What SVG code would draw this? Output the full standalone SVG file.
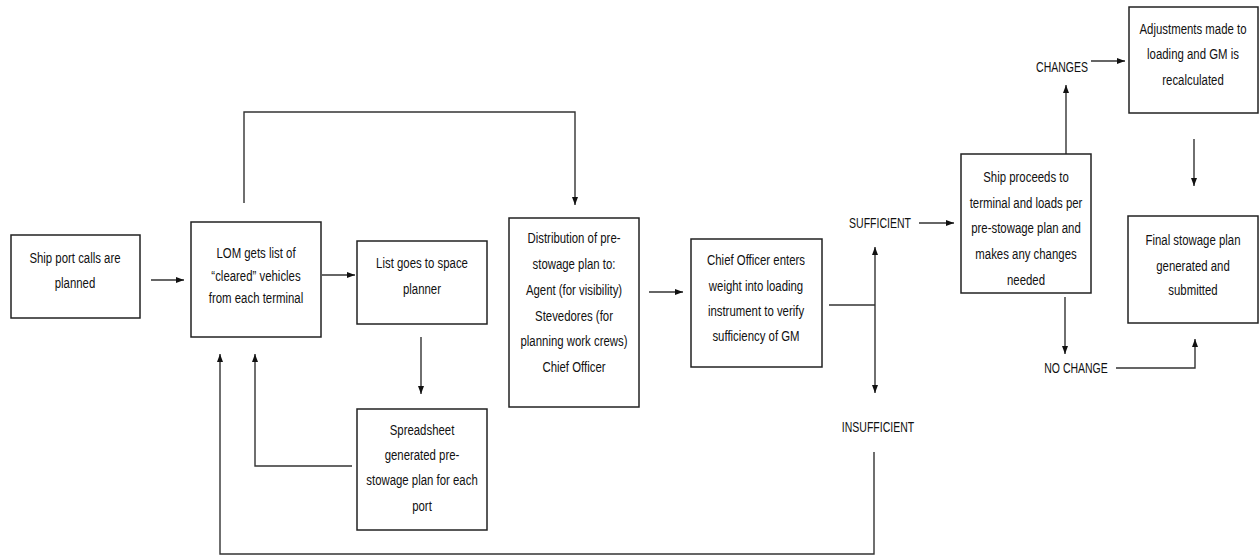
<svg xmlns="http://www.w3.org/2000/svg" width="1259" height="556" viewBox="0 0 1259 556">
<style>
.box{fill:#fff;stroke:#222;stroke-width:1.5}
.t{font-family:"Liberation Sans",Arial,sans-serif;font-size:15px;fill:#111;text-anchor:middle}
.c{fill:none;stroke:#333;stroke-width:1.4}
.a{marker-end:url(#ah)}
</style>
<defs>
<marker id="ah" markerUnits="userSpaceOnUse" markerWidth="8" markerHeight="8" viewBox="0 0 8 8" refX="8" refY="4" orient="auto">
<path d="M0,1 L8,4 L0,7 Z" fill="#111"/>
</marker>
</defs>
<rect width="1259" height="556" fill="#fff"/>
<g id="connectors">
<path class="c a" d="M151,280 H184"/>
<path class="c a" d="M322,275 H355"/>
<path class="c a" d="M244,203 V112 H575 V205"/>
<path class="c a" d="M421,337 V394"/>
<path class="c a" d="M352,466 H255 V354"/>
<path class="c a" d="M649,292 H683"/>
<path class="c" d="M829,305 H875"/>
<path class="c a" d="M875,305 V247"/>
<path class="c a" d="M875,305 V393"/>
<path class="c a" d="M919,223 H954"/>
<path class="c a" d="M1066,154 V85"/>
<path class="c a" d="M1091,61 H1125"/>
<path class="c a" d="M1194,139 V186"/>
<path class="c a" d="M1065,297 V354"/>
<path class="c a" d="M1116,368 H1195 V339"/>
<path class="c a" d="M874,452 V554 H220 V354"/>
</g>
<g id="n-ship-calls">
<rect class="box" x="11" y="235" width="129" height="83"/>
<text class="t" transform="translate(75 0) scale(0.76 1)"><tspan x="0" y="263">Ship port calls are</tspan><tspan x="0" y="288">planned</tspan></text>
</g>
<g id="n-lom">
<rect class="box" x="191" y="222" width="130" height="115"/>
<text class="t" transform="translate(256 0) scale(0.76 1)"><tspan x="0" y="258">LOM gets list of</tspan><tspan x="0" y="281">“cleared” vehicles</tspan><tspan x="0" y="303">from each terminal</tspan></text>
</g>
<g id="n-list">
<rect class="box" x="357" y="241" width="130" height="83"/>
<text class="t" transform="translate(422 0) scale(0.76 1)"><tspan x="0" y="268">List goes to space</tspan><tspan x="0" y="294">planner</tspan></text>
</g>
<g id="n-spreadsheet">
<rect class="box" x="357" y="409" width="130" height="121"/>
<text class="t" transform="translate(422 0) scale(0.76 1)"><tspan x="0" y="435">Spreadsheet</tspan><tspan x="0" y="460">generated pre-</tspan><tspan x="0" y="485">stowage plan for each</tspan><tspan x="0" y="511">port</tspan></text>
</g>
<g id="n-distribution">
<rect class="box" x="509" y="218" width="130" height="189"/>
<text class="t" transform="translate(574 0) scale(0.76 1)"><tspan x="0" y="243">Distribution of pre-</tspan><tspan x="0" y="269">stowage plan to:</tspan><tspan x="0" y="295">Agent (for visibility)</tspan><tspan x="0" y="321">Stevedores (for</tspan><tspan x="0" y="346">planning work crews)</tspan><tspan x="0" y="372">Chief Officer</tspan></text>
</g>
<g id="n-chief">
<rect class="box" x="691" y="239" width="131" height="128"/>
<text class="t" transform="translate(756 0) scale(0.76 1)"><tspan x="0" y="265">Chief Officer enters</tspan><tspan x="0" y="291">weight into loading</tspan><tspan x="0" y="316">instrument to verify</tspan><tspan x="0" y="341">sufficiency of GM</tspan></text>
</g>
<g id="l-sufficient">
<text class="t" transform="translate(880 0) scale(0.7 1)"><tspan x="0" y="228">SUFFICIENT</tspan></text>
</g>
<g id="l-insufficient">
<text class="t" transform="translate(878 0) scale(0.7 1)"><tspan x="0" y="432">INSUFFICIENT</tspan></text>
</g>
<g id="n-ship-proceeds">
<rect class="box" x="961" y="154" width="130" height="139"/>
<text class="t" transform="translate(1026 0) scale(0.76 1)"><tspan x="0" y="182">Ship proceeds to</tspan><tspan x="0" y="208">terminal and loads per</tspan><tspan x="0" y="233">pre-stowage plan and</tspan><tspan x="0" y="259">makes any changes</tspan><tspan x="0" y="285">needed</tspan></text>
</g>
<g id="l-changes">
<text class="t" transform="translate(1062 0) scale(0.7 1)"><tspan x="0" y="72">CHANGES</tspan></text>
</g>
<g id="l-nochange">
<text class="t" transform="translate(1076 0) scale(0.7 1)"><tspan x="0" y="373">NO CHANGE</tspan></text>
</g>
<g id="n-adjust">
<rect class="box" x="1129" y="7" width="129" height="106"/>
<text class="t" transform="translate(1193 0) scale(0.76 1)"><tspan x="0" y="34">Adjustments made to</tspan><tspan x="0" y="59">loading and GM is</tspan><tspan x="0" y="85">recalculated</tspan></text>
</g>
<g id="n-final">
<rect class="box" x="1128" y="216" width="130" height="107"/>
<text class="t" transform="translate(1193 0) scale(0.76 1)"><tspan x="0" y="245">Final stowage plan</tspan><tspan x="0" y="271">generated and</tspan><tspan x="0" y="295">submitted</tspan></text>
</g>
</svg>
